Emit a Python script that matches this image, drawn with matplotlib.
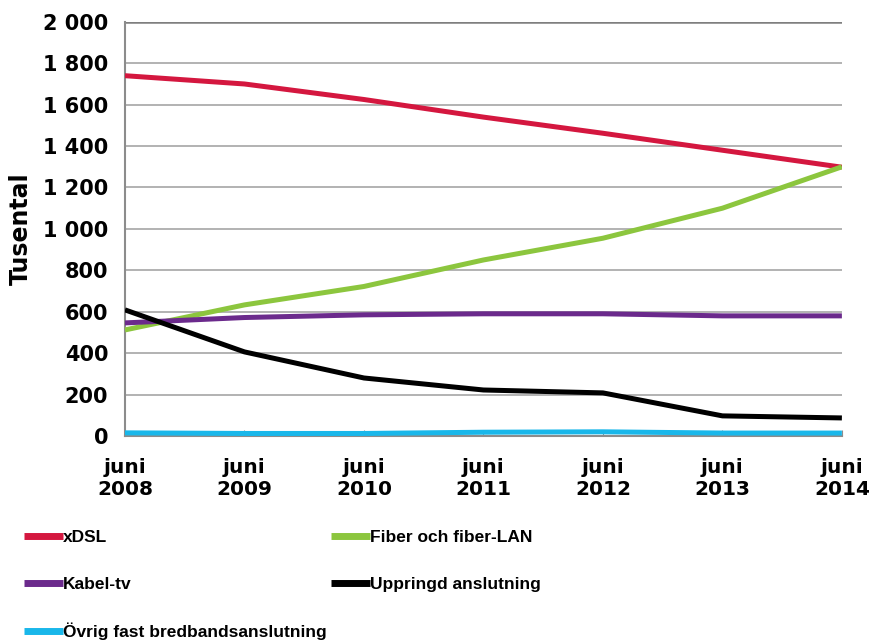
import matplotlib
matplotlib.use("Agg")
import matplotlib.pyplot as plt
from matplotlib import font_manager
from matplotlib.ticker import FuncFormatter

# Antal fasta anslutningar per teknik, tusental
years = ["juni\n2008", "juni\n2009", "juni\n2010", "juni\n2011",
         "juni\n2012", "juni\n2013", "juni\n2014"]
xdsl = [1740, 1700, 1625, 1540, 1462, 1380, 1298]
fiber = [512, 633, 722, 850, 955, 1100, 1300]
kabel = [546, 572, 585, 590, 590, 580, 580]
uppringd = [609, 406, 280, 222, 208, 97, 87]
ovrig = [15, 12, 12, 18, 20, 14, 14]

series = [
    ("xDSL", xdsl, "#d4173f"),
    ("Fiber och fiber-LAN", fiber, "#8cc63e"),
    ("Kabel-tv", kabel, "#6b2a8c"),
    ("Uppringd anslutning", uppringd, "#000000"),
    ("Övrig fast bredbandsanslutning", ovrig, "#19b7ea"),
]

installed = {f.name for f in font_manager.fontManager.ttflist}
legend_family = "Liberation Sans Narrow" if "Liberation Sans Narrow" in installed else "Liberation Sans"

fig = plt.figure(figsize=(8.69, 6.43), dpi=100)
ax = fig.add_axes([0.1438, 0.322, 0.825, 0.644])

x = list(range(len(years)))
lines = {}
for name, vals, col in series:
    ln, = ax.plot(x, vals, color=col, lw=3.6, solid_capstyle="butt", label=name, zorder=3)
    lines[name] = ln

ax.set_xlim(0, len(years) - 1)
ax.set_ylim(0, 2000)
ax.set_yticks(range(0, 2001, 200))
ax.yaxis.set_major_formatter(FuncFormatter(lambda v, p: f"{int(v):,}".replace(",", " ")))
ax.set_xticks(x)
ax.set_xticklabels(years)

ax.grid(axis="y", color="#a6a6a6", lw=1.2, zorder=0)
ax.set_axisbelow(True)
for s in ["top", "right"]:
    ax.spines[s].set_visible(False)
for s in ["left", "bottom"]:
    ax.spines[s].set_color("#8c8c8c")
    ax.spines[s].set_linewidth(1.5)
ax.axhline(2000, color="#7f7f7f", lw=1.8, zorder=1)

ax.tick_params(axis="y", length=0, pad=12, labelsize=15)
ax.tick_params(axis="x", direction="in", length=4, color="#8c8c8c", pad=16, labelsize=14.5)
for lab in ax.get_yticklabels() + ax.get_xticklabels():
    lab.set_fontweight("bold")
for lab in ax.get_xticklabels():
    lab.set_linespacing(1.2)

ax.set_ylabel("Tusental", fontsize=17, fontweight="bold")
ax.yaxis.set_label_coords(-0.128, 0.5)

order = ["xDSL", "Kabel-tv", "Övrig fast bredbandsanslutning",
         "Fiber och fiber-LAN", "Uppringd anslutning"]
leg = fig.legend([lines[n] for n in order], order, ncol=2,
                 loc="upper left", bbox_to_anchor=(0.01, 0.2),
                 frameon=False, handlelength=2.2, handletextpad=0.0,
                 columnspacing=0.3, labelspacing=1.8,
                 prop={"family": legend_family, "weight": "bold", "size": 12.5})
for h in leg.get_lines():
    h.set_linewidth(5)

fig.savefig("out.png", dpi=100)
